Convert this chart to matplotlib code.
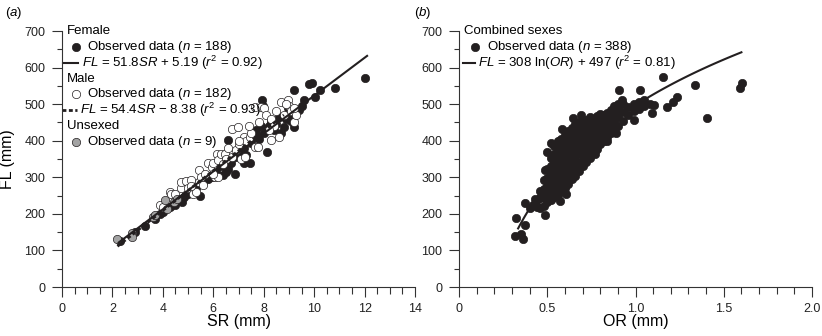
import matplotlib
matplotlib.use('Agg')
import matplotlib.pyplot as plt
from matplotlib.lines import Line2D
from matplotlib.ticker import MultipleLocator
import numpy as np

plt.rcParams['font.family'] = ['Liberation Sans', 'DejaVu Sans']
plt.rcParams['mathtext.fontset'] = 'custom'
plt.rcParams['mathtext.rm'] = 'Liberation Sans'
plt.rcParams['mathtext.it'] = 'Liberation Sans:italic'
plt.rcParams['mathtext.bf'] = 'Liberation Sans:bold'

# ---------------- Panel (a) data: SR (mm) vs FL (mm) ----------------
female_sr = [2.3, 2.9, 3.3, 3.7, 4.0, 4.3, 4.5, 4.75, 4.84, 5.0, 5.2, 5.46, 5.6, 5.8, 6.0,
             6.1, 6.3, 6.4, 6.6, 6.6, 6.7, 6.86, 6.9, 7.0, 7.2, 7.2, 7.45, 7.5, 7.6, 7.7,
             7.8, 7.95, 7.97, 8.0, 8.14, 8.2, 8.3, 8.5, 8.6, 8.7, 8.8, 8.9, 9.0, 9.1, 9.2,
             9.2, 9.3, 9.4, 9.5, 9.6, 9.8, 9.9, 10.03, 10.22, 10.81, 12.0, 6.5, 7.3, 8.4,
             5.3, 4.6, 3.9, 7.9, 8.95]
female_fl = [125, 150, 168, 185, 205, 220, 225, 233, 246, 255, 262, 249, 285, 295, 300,
             318, 330, 305, 324, 402, 340, 310, 355, 365, 338, 380, 338, 395, 410, 430,
             405, 511, 495, 420, 370, 440, 455, 445, 465, 420, 438, 460, 470, 455, 438,
             540, 480, 484, 495, 511, 554, 557, 520, 538, 543, 572, 315, 360, 430,
             270, 238, 200, 440, 490]

male_sr = [3.9, 4.3, 4.31, 4.5, 4.7, 4.7, 4.9, 5.0, 5.1, 5.2, 5.3, 5.42, 5.42, 5.5, 5.69,
           5.8, 5.95, 6.0, 6.08, 6.14, 6.2, 6.2, 6.3, 6.47, 6.5, 6.73, 6.73, 6.9, 6.99,
           7.0, 7.1, 7.2, 7.25, 7.3, 7.45, 7.5, 7.65, 7.65, 7.78, 7.8, 7.9, 8.0, 8.1,
           8.3, 8.3, 8.4, 8.5, 8.6, 8.69, 8.8, 8.95, 9.0, 9.1, 9.2, 9.3, 6.6, 7.4, 6.0,
           5.6, 4.0, 8.2, 7.0, 6.4, 5.1, 8.9, 9.2]
male_fl = [225, 260, 255, 255, 270, 288, 290, 270, 292, 255, 260, 287, 320, 300, 310,
           338, 329, 340, 301, 365, 301, 347, 365, 365, 350, 433, 356, 375, 438,
           390, 350, 410, 356, 400, 411, 420, 383, 493, 383, 450, 493, 490, 470,
           402, 460, 440, 480, 410, 507, 470, 511, 495, 480, 452, 470, 380, 440, 310,
           280, 220, 430, 400, 335, 275, 500, 490]

unsexed_sr = [2.18, 2.77, 2.78, 3.62, 3.69, 4.08, 4.18, 4.44, 4.55]
unsexed_fl = [130, 149, 137, 192, 196, 237, 212, 233, 240]

female_fit = (51.8, 5.19)      # slope, intercept
female_fit_range = (2.25, 12.1)
male_fit = (54.4, -8.38)
male_fit_range = (2.2, 8.8)

# ---------------- Panel (b) data: OR (mm) vs FL (mm) ----------------
comb_or = [0.315, 0.325, 0.363, 0.372, 0.372, 0.353, 0.40, 0.42, 0.43, 0.485, 0.50, 0.523,
           0.485, 0.585, 0.646, 0.693, 0.608, 0.57, 0.772, 0.839, 0.907, 1.024, 0.925, 0.99,
           1.093, 1.105, 1.156, 1.18, 1.212, 1.235, 1.339, 1.407, 1.59, 1.603, 0.89, 0.87,
           0.44, 0.44,
           0.46, 0.46, 0.46,
           0.48, 0.48, 0.48, 0.48,
           0.50, 0.50, 0.50, 0.50, 0.50,
           0.52, 0.52, 0.52, 0.52, 0.52, 0.52,
           0.54, 0.54, 0.54, 0.54, 0.54, 0.54, 0.54,
           0.56, 0.56, 0.56, 0.56, 0.56, 0.56, 0.56,
           0.58, 0.58, 0.58, 0.58, 0.58, 0.58, 0.58,
           0.60, 0.60, 0.60, 0.60, 0.60, 0.60, 0.60,
           0.62, 0.62, 0.62, 0.62, 0.62, 0.62, 0.62,
           0.64, 0.64, 0.64, 0.64, 0.64, 0.64, 0.64,
           0.66, 0.66, 0.66, 0.66, 0.66, 0.66, 0.66,
           0.68, 0.68, 0.68, 0.68, 0.68, 0.68, 0.68,
           0.70, 0.70, 0.70, 0.70, 0.70, 0.70,
           0.72, 0.72, 0.72, 0.72, 0.72, 0.72,
           0.74, 0.74, 0.74, 0.74, 0.74, 0.74,
           0.76, 0.76, 0.76, 0.76, 0.76,
           0.78, 0.78, 0.78, 0.78, 0.78,
           0.80, 0.80, 0.80, 0.80, 0.80,
           0.82, 0.82, 0.82, 0.82,
           0.84, 0.84, 0.84, 0.84,
           0.86, 0.86, 0.86, 0.86,
           0.88, 0.88, 0.88, 0.88,
           0.90, 0.90, 0.90, 0.90,
           0.93, 0.93, 0.93,
           0.96, 0.96,
           0.99, 0.99,
           1.02, 1.02,
           1.05, 1.05, 1.08]
comb_fl = [139, 190, 130, 169, 231, 146, 215, 225, 240, 196, 370, 394,
           319, 431, 461, 470, 254, 235, 365, 400, 538, 540, 511, 456,
           475, 499, 573, 493, 507, 520, 552, 463, 543, 557, 420, 424,
           218, 238,
           215, 242, 262,
           222, 246, 268, 292,
           232, 252, 277, 298, 322,
           238, 262, 283, 308, 330, 352,
           246, 268, 293, 316, 342, 364, 386,
           252, 278, 300, 326, 348, 372, 398,
           262, 286, 312, 334, 360, 382, 406,
           272, 298, 320, 346, 368, 394, 416,
           282, 306, 332, 354, 380, 402, 426,
           294, 316, 342, 364, 390, 412, 436,
           304, 330, 352, 378, 400, 426, 446,
           318, 340, 366, 388, 414, 436, 452,
           330, 356, 378, 404, 426, 450,
           342, 364, 390, 412, 438, 458,
           352, 378, 400, 426, 448, 464,
           366, 390, 416, 438, 460,
           378, 404, 426, 452, 468,
           390, 414, 440, 460, 472,
           400, 426, 448, 470,
           410, 434, 458, 476,
           420, 446, 468, 484,
           430, 454, 476, 494,
           440, 466, 486, 500,
           455, 478, 500,
           470, 492,
           480, 500,
           488, 505,
           495, 510, 500]

comb_fit = (308, 497)           # FL = a ln(OR) + b
comb_fit_range = (0.335, 1.6)

BLACK = '#231f20'
GREY = '#a3a3a3'
DASH = (0, (1.4, 0.9))

fig = plt.figure(figsize=(8.22, 3.36), dpi=100)
axa = fig.add_axes([62/822, 1-287/336, 353/822, 256/336])
axb = fig.add_axes([459/822, 1-287/336, 353/822, 256/336])


def style_axes(ax, xmax, xmajor, xminor, xfmt):
    ax.set_xlim(0, xmax)
    ax.set_ylim(0, 700)
    for s in ['top', 'right']:
        ax.spines[s].set_visible(False)
    for s in ['left', 'bottom']:
        ax.spines[s].set_linewidth(0.8)
        ax.spines[s].set_color('#333333')
    ax.xaxis.set_major_locator(MultipleLocator(xmajor))
    ax.xaxis.set_minor_locator(MultipleLocator(xminor))
    ax.yaxis.set_major_locator(MultipleLocator(100))
    ax.yaxis.set_minor_locator(MultipleLocator(50))
    ax.tick_params(axis='both', which='both', direction='out', width=0.8, color='#333333',
                   labelsize=9, labelcolor='#222222')
    ax.tick_params(axis='both', which='major', length=7.5)
    ax.tick_params(axis='x', which='major', pad=4)
    ax.tick_params(axis='y', which='major', pad=4.5)
    ax.tick_params(axis='x', which='minor', length=4.8)
    ax.tick_params(axis='y', which='minor', length=3.5)
    ax.xaxis.set_major_formatter(xfmt)


def fmt_int(v, pos):
    return '%d' % v


def fmt_b(v, pos):
    return '0' if abs(v) < 1e-9 else '%.1f' % v


style_axes(axa, 14, 2, 0.5, plt.FuncFormatter(fmt_int))
style_axes(axb, 2.0, 0.5, 0.1, plt.FuncFormatter(fmt_b))

ms = 36
# Panel (a) scatter
axa.scatter(female_sr, female_fl, s=ms, c=BLACK, edgecolors=BLACK, linewidths=0.5, zorder=2)
axa.scatter(male_sr, male_fl, s=ms, c='white', edgecolors=BLACK, linewidths=0.5, zorder=3)
axa.scatter(unsexed_sr, unsexed_fl, s=ms, c=GREY, edgecolors=BLACK, linewidths=0.5, zorder=4)

xf = np.linspace(*female_fit_range, 50)
axa.plot(xf, female_fit[0]*xf + female_fit[1], color=BLACK, lw=1.5, zorder=5)
xm = np.linspace(*male_fit_range, 50)
axa.plot(xm, male_fit[0]*xm + male_fit[1], color=BLACK, lw=2.0, ls=DASH, zorder=5)

# Panel (b) scatter
axb.scatter(comb_or, comb_fl, s=ms, c=BLACK, edgecolors=BLACK, linewidths=0.5, zorder=2)
xo = np.linspace(*comb_fit_range, 100)
axb.plot(xo, comb_fit[0]*np.log(xo) + comb_fit[1], color=BLACK, lw=1.5, zorder=5)

# Axis labels
axa.set_ylabel('FL (mm)', fontsize=11.5)
axa.yaxis.set_label_coords(-0.133, 0.5)
axa.set_xlabel('SR (mm)', fontsize=11.5, va='top')
axa.xaxis.set_label_coords(0.5, -0.105)
axb.set_xlabel('OR (mm)', fontsize=11.5, va='top')
axb.xaxis.set_label_coords(0.5, -0.105)

# Panel letters
fig.text(5/822, 1-13/336, r'($\it{a}$)', fontsize=9.5, va='center', ha='left')
fig.text(414/822, 1-13/336, r'($\it{b}$)', fontsize=9.5, va='center', ha='left')

# Legends (hand-composed, axes-fraction coordinates)
LFS = 9.5


def header(ax, x, y, text):
    ax.text(x, y, text, transform=ax.transAxes, fontsize=LFS, va='center', ha='left')


def marker_row(ax, xm_, xt, y, face, text):
    ax.add_line(Line2D([xm_], [y], transform=ax.transAxes, marker='o', ms=6, mfc=face,
                       mec=BLACK, mew=0.5, ls='none', clip_on=False))
    ax.text(xt, y, text, transform=ax.transAxes, fontsize=LFS, va='center', ha='left')


def line_row(ax, x0, x1, xt, y, ls, lw, text):
    ax.add_line(Line2D([x0, x1], [y, y], transform=ax.transAxes, color=BLACK, lw=lw, ls=ls,
                       clip_on=False))
    ax.text(xt, y, text, transform=ax.transAxes, fontsize=LFS, va='center', ha='left')


header(axa, 0.014, 1.0, 'Female')
marker_row(axa, 0.040, 0.071, 0.9375, BLACK, r'Observed data ($n$ = 188)')
line_row(axa, 0.003, 0.045, 0.057, 0.875, '-', 1.5, r'$FL$ = 51.8$SR$ + 5.19 ($r^2$ = 0.92)')
header(axa, 0.014, 0.8125, 'Male')
marker_row(axa, 0.040, 0.071, 0.752, 'white', r'Observed data ($n$ = 182)')
line_row(axa, 0.0, 0.042, 0.050, 0.690, DASH, 2.0,
         r'$FL$ = 54.4$SR$ − 8.38 ($r^2$ = 0.93)')
header(axa, 0.014, 0.628, 'Unsexed')
marker_row(axa, 0.040, 0.071, 0.568, GREY, r'Observed data ($n$ = 9)')

header(axb, 0.014, 1.0, 'Combined sexes')
marker_row(axb, 0.045, 0.079, 0.9375, BLACK, r'Observed data ($n$ = 388)')
line_row(axb, 0.011, 0.045, 0.054, 0.875, '-', 1.5,
         r'$FL$ = 308 ln($OR$) + 497 ($r^2$ = 0.81)')

fig.savefig('out.png', dpi=100)
